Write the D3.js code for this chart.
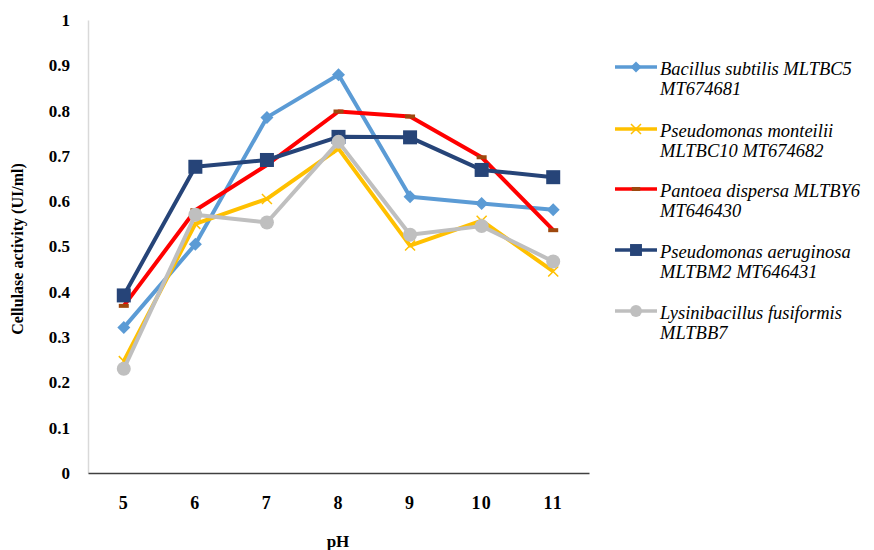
<!DOCTYPE html>
<html><head><meta charset="utf-8">
<script src="https://cdn.jsdelivr.net/npm/d3@7"></script>
<style>body{margin:0;background:#fff}svg{display:block}
svg text{font-family:"Liberation Serif","Times New Roman",serif !important;}</style>
</head><body>
<svg id="c" width="874" height="550"></svg>
<script>
const categories = ["5","6","7","8","9","10","11"];
const yTicks = [0,0.1,0.2,0.3,0.4,0.5,0.6,0.7,0.8,0.9,1];
const seriesNames = [
  ["Bacillus subtilis MLTBC5","MT674681"],
  ["Pseudomonas monteilii","MLTBC10 MT674682"],
  ["Pantoea dispersa MLTBY6","MT646430"],
  ["Pseudomonas aeruginosa","MLTBM2 MT646431"],
  ["Lysinibacillus fusiformis","MLTBB7"]
];
const bacillus   = [0.321,0.505,0.785,0.879,0.610,0.595,0.581];
const monteilii  = [0.247,0.550,0.605,0.716,0.502,0.557,0.445];
const pantoea    = [0.369,0.580,0.680,0.798,0.787,0.697,0.536];
const aeruginosa = [0.392,0.676,0.691,0.742,0.741,0.669,0.653];
const lysini     = [0.230,0.570,0.553,0.731,0.526,0.545,0.467];
const seriesValues = [bacillus, monteilii, pantoea, aeruginosa, lysini];
const colors = ["#5B9BD5","#FFC000","#FF0000","#264478","#BFBFBF"];
const markers = ["diamond","x","dash","square","circle"];

const svg = d3.select("#c");
const L = 88, R = 589, T = 20, B = 473;
const x = d3.scaleBand().domain(categories).range([L,R]);
const y = d3.scaleLinear().domain([0,1]).range([B,T]);

// y axis
const ya = svg.append("g").attr("transform",`translate(${L},0)`)
  .call(d3.axisLeft(y).tickValues(yTicks).tickSize(0).tickPadding(18).tickFormat(d=>String(+d.toFixed(1))));
ya.select(".domain").attr("stroke","#d9d9d9").attr("stroke-width",1.5);
ya.selectAll("text").attr("font-weight","bold").attr("font-size",17).attr("fill","#000");

// x axis
const xa = svg.append("g").attr("transform",`translate(0,${B})`)
  .call(d3.axisBottom(x).tickSize(0).tickPadding(23));
xa.select(".domain").attr("stroke","#404040").attr("stroke-width",1.5);
xa.selectAll("text").attr("font-weight","bold").attr("font-size",18).attr("letter-spacing",1.2).attr("fill","#000");

svg.append("text").attr("x",338).attr("y",547).attr("text-anchor","middle")
  .attr("font-weight","bold").attr("font-size",17).text("pH");
svg.append("text").attr("transform","translate(23,249) rotate(-90)").attr("text-anchor","middle")
  .attr("font-weight","bold").attr("font-size",16).text("Cellulase activity (UI/ml)");

function drawMarker(g, type, color, cx, cy, scale){
  const s = scale||1;
  if(type==="diamond"){
    const h=6.5*s;
    g.append("path").attr("d",`M${cx},${cy-h}L${cx+h},${cy}L${cx},${cy+h}L${cx-h},${cy}Z`).attr("fill",color);
  } else if(type==="x"){
    const h=5*s;
    g.append("path").attr("d",`M${cx-h},${cy-h}L${cx+h},${cy+h}M${cx-h},${cy+h}L${cx+h},${cy-h}`).attr("stroke",color).attr("stroke-width",1.5).attr("fill","none");
  } else if(type==="dash"){
    g.append("rect").attr("x",cx-5*s).attr("y",cy-2).attr("width",10*s).attr("height",4).attr("fill","#9E480E");
  } else if(type==="square"){
    const h=7*s;
    g.append("rect").attr("x",cx-h).attr("y",cy-h).attr("width",2*h).attr("height",2*h).attr("fill",color);
  } else if(type==="circle"){
    g.append("circle").attr("cx",cx).attr("cy",cy).attr("r",7*s).attr("fill",color);
  }
}

const line = d3.line().x((d,i)=>x(categories[i])+x.bandwidth()/2).y(d=>y(d));
seriesValues.forEach((vals,si)=>{
  const g = svg.append("g");
  g.append("path").datum(vals).attr("d",line).attr("fill","none")
    .attr("stroke",colors[si]).attr("stroke-width",4).attr("stroke-linejoin","round");
  vals.forEach((v,i)=>drawMarker(g, markers[si], colors[si], x(categories[i])+x.bandwidth()/2, y(v)));
});

// legend
const legY = [67,129,189,250,311];
seriesNames.forEach((nm,si)=>{
  const g = svg.append("g");
  const ly = legY[si];
  g.append("line").attr("x1",615).attr("x2",657).attr("y1",ly).attr("y2",ly).attr("stroke",colors[si]).attr("stroke-width",3.5);
  drawMarker(g, markers[si], colors[si], 636, ly, markers[si]==="x"?1:0.85);
  nm.forEach((t,k)=>{
    g.append("text").attr("x",660).attr("y",ly+8+k*19.5).attr("font-style","italic")
      .attr("font-size",18.5).attr("fill","#000").text(t);
  });
});
</script>
</body></html>
